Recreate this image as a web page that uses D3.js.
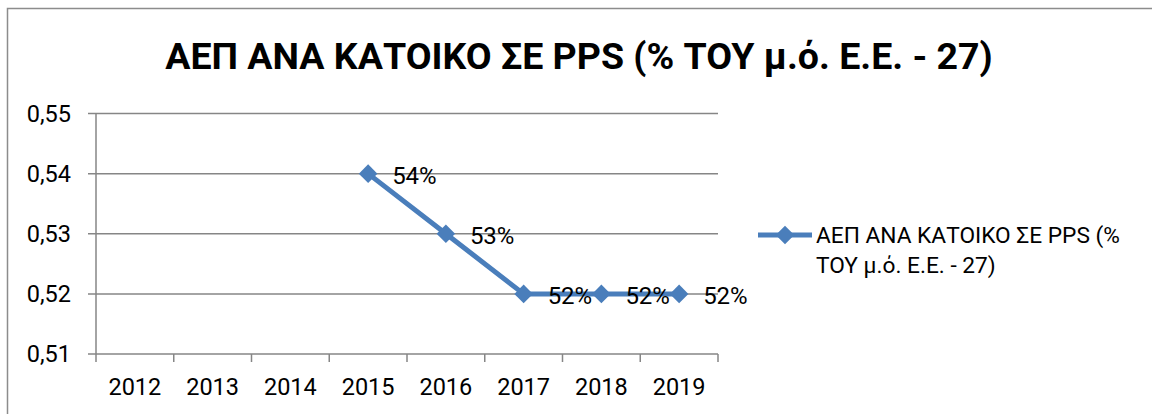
<!DOCTYPE html>
<html>
<head>
<meta charset="utf-8">
<script src="https://cdn.jsdelivr.net/npm/d3@7"></script>
<style>
  body { margin: 0; background: #fff; }
  svg { display: block; font-family: Roboto, "Noto Sans", sans-serif; }
</style>
</head>
<body>
<div class="visual"></div>
<script>
const width = 1152;
const height = 414;

// data
const years = ["2012", "2013", "2014", "2015", "2016", "2017", "2018", "2019"];
const values = [null, null, null, 0.54, 0.53, 0.52, 0.52, 0.52];
const yTicks = [0.51, 0.52, 0.53, 0.54, 0.55];
const title = "ΑΕΠ ΑΝΑ ΚΑΤΟΙΚΟ ΣΕ PPS (% ΤΟΥ μ.ό. Ε.Ε. - 27)";
const seriesName = ["ΑΕΠ ΑΝΑ ΚΑΤΟΙΚΟ ΣΕ PPS (%", "ΤΟΥ μ.ό. Ε.Ε. - 27)"];

const blue = "#4a7ebb";
const grid = "#868686";

const svg = d3
  .select(".visual")
  .append("svg")
  .attr("width", width)
  .attr("height", height);

// outer chart frame (runs off the right and bottom edge)
svg
  .append("rect")
  .attr("x", 7.5)
  .attr("y", 8.5)
  .attr("width", 1160)
  .attr("height", 420)
  .attr("fill", "white")
  .attr("stroke", "#8c8c8c")
  .attr("stroke-width", 1.5);

svg
  .append("text")
  .attr("x", 579)
  .attr("y", 69)
  .attr("text-anchor", "middle")
  .attr("font-size", 37.5)
  .attr("font-weight", "bold")
  .text(title);

const x = d3.scaleBand().domain(years).range([96, 718]).padding(0);
const y = d3.scaleLinear().domain([0.51, 0.55]).range([354, 113.5]);

const locale = d3.formatLocale({ decimal: ",", thousands: ".", grouping: [3], currency: ["", "€"] });
const fmtY = locale.format(".2f");

// horizontal gridlines
svg
  .selectAll(".grid")
  .data(yTicks)
  .enter()
  .append("line")
  .attr("x1", 88)
  .attr("x2", 718)
  .attr("y1", (d) => y(d))
  .attr("y2", (d) => y(d))
  .attr("stroke", grid)
  .attr("stroke-width", 1.5);

// y axis line
svg
  .append("line")
  .attr("x1", 96)
  .attr("x2", 96)
  .attr("y1", y(0.55))
  .attr("y2", y(0.51) + 8)
  .attr("stroke", grid)
  .attr("stroke-width", 1.5);

// y labels
svg
  .selectAll(".ylab")
  .data(yTicks)
  .enter()
  .append("text")
  .attr("x", 71)
  .attr("y", (d) => y(d))
  .attr("dy", "0.35em")
  .attr("text-anchor", "end")
  .attr("font-size", 23.5)
  .text((d) => fmtY(d));

// x ticks at band edges
const edges = years.map((d) => x(d)).concat([x.range()[1]]);
svg
  .selectAll(".xtick")
  .data(edges.slice(1))
  .enter()
  .append("line")
  .attr("x1", (d) => d)
  .attr("x2", (d) => d)
  .attr("y1", y(0.51))
  .attr("y2", y(0.51) + 8)
  .attr("stroke", grid)
  .attr("stroke-width", 1.5);

svg
  .selectAll(".xlab")
  .data(years)
  .enter()
  .append("text")
  .attr("x", (d) => x(d) + x.bandwidth() / 2)
  .attr("y", 395)
  .attr("text-anchor", "middle")
  .attr("font-size", 23.5)
  .text((d) => d);

// series
const pts = years
  .map((d, i) => ({ year: d, value: values[i] }))
  .filter((d) => d.value != null);

const cx = (d) => x(d.year) + x.bandwidth() / 2;

const line = d3
  .line()
  .x(cx)
  .y((d) => y(d.value));

svg
  .append("path")
  .datum(pts)
  .attr("d", line)
  .attr("fill", "none")
  .attr("stroke", blue)
  .attr("stroke-width", 5)
  .attr("stroke-linejoin", "round");

const diamond = d3.symbol().type(d3.symbolDiamond2).size(220);

svg
  .selectAll(".marker")
  .data(pts)
  .enter()
  .append("path")
  .attr("d", diamond)
  .attr("transform", (d) => `translate(${cx(d)},${y(d.value)})`)
  .attr("fill", blue);

svg
  .selectAll(".dlab")
  .data(pts)
  .enter()
  .append("text")
  .attr("x", (d) => cx(d) + 24)
  .attr("y", (d) => y(d.value) + 2)
  .attr("dy", "0.35em")
  .attr("font-size", 24)
  .text((d) => d3.format(".0%")(d.value));

// legend
const lg = svg.append("g").attr("transform", "translate(758,235)");
lg.append("line")
  .attr("x1", 0)
  .attr("x2", 54)
  .attr("stroke", blue)
  .attr("stroke-width", 5);
lg.append("path")
  .attr("d", diamond)
  .attr("transform", "translate(27,0)")
  .attr("fill", blue);
lg.selectAll("text")
  .data(seriesName)
  .enter()
  .append("text")
  .attr("x", 58)
  .attr("y", (d, i) => 8 + i * 30)
  .attr("font-size", 22.7)
  .text((d) => d);
</script>
</body>
</html>
